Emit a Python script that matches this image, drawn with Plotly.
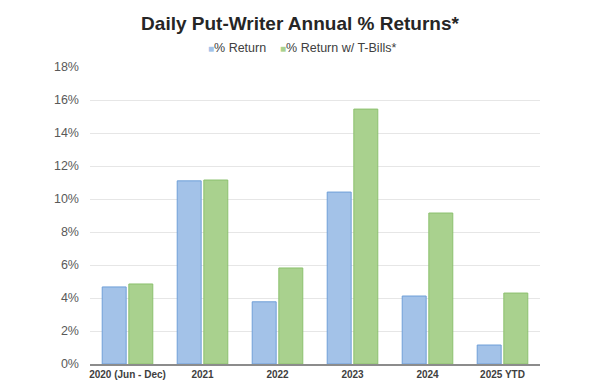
import plotly.graph_objects as go

categories = ["2020 (Jun - Dec)", "2021", "2022", "2023", "2024", "2025 YTD"]
pct_return = [4.67, 11.1, 3.77, 10.42, 4.12, 1.15]
pct_return_tbills = [4.85, 11.15, 5.82, 15.45, 9.15, 4.3]
series_names = ["% Return", "% Return w/ T-Bills*"]
series_colors = ["#a3c2e8", "#a9d18e"]
edge_colors = ["#6f9fd8", "#8cc06e"]

fig = go.Figure()
for name, vals, c, e in zip(series_names, [pct_return, pct_return_tbills], series_colors, edge_colors):
    fig.add_trace(go.Bar(
        x=categories, y=vals, name=name, showlegend=False,
        marker=dict(color=c, line=dict(color=e, width=1)),
    ))

legend_text = "&nbsp;&nbsp;&nbsp;&nbsp;".join(
    f"<span style='color:{c};font-size:10px'>■</span>{n}" for n, c in zip(series_names, series_colors)
)
fig.add_annotation(
    text=legend_text, xref="paper", yref="paper", x=0.47, y=1.065,
    xanchor="center", yanchor="middle", showarrow=False,
    font=dict(family="Liberation Sans, Arial", size=12.5, color="#404040"),
)

fig.update_layout(
    width=600, height=386,
    margin=dict(l=90, r=60, t=67, b=22),
    paper_bgcolor="white", plot_bgcolor="white",
    barmode="group", bargap=0.29, bargroupgap=0.1,
    title=dict(text="<b>Daily Put-Writer Annual % Returns*</b>", x=0.5, xanchor="center",
               y=0.94, yanchor="middle",
               font=dict(family="Liberation Sans, Arial", size=19, color="#262626")),
    showlegend=False,
    font=dict(family="Liberation Sans, Arial"),
)
fig.update_yaxes(
    range=[0, 18], dtick=2, ticksuffix="%", showgrid=True, gridcolor="#e6e6e6", gridwidth=1,
    tickfont=dict(size=12.5, color="#595959"), zeroline=False, showline=False, ticks="",
    ticklabelstandoff=10, automargin=False,
)
fig.update_xaxes(
    showline=True, linecolor="#8c8c8c", linewidth=1.5,
    tickfont=dict(size=10, color="#404040", family="Liberation Sans, Arial"),
    tickprefix="<b>", ticksuffix="</b>", ticks="", automargin=False,
)
fig.write_html("out.html")
